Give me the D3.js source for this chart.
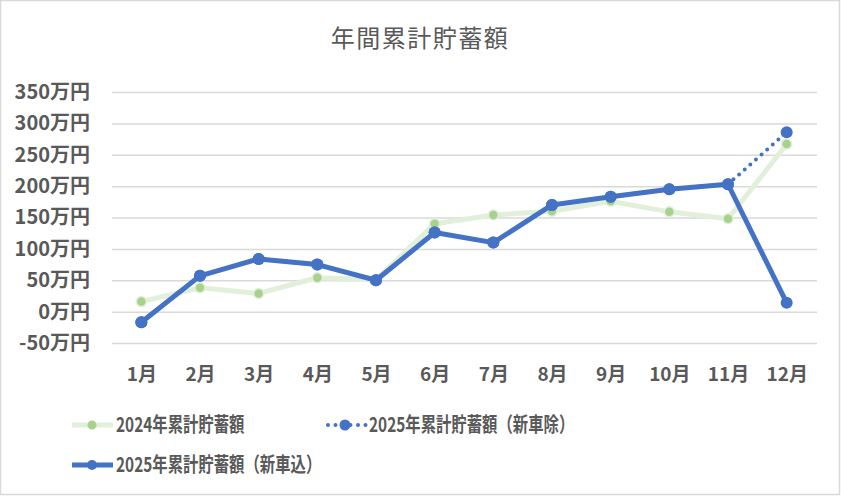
<!DOCTYPE html>
<html><head><meta charset="utf-8">
<script src="https://cdn.jsdelivr.net/npm/d3@7"></script>
<style>
html,body{margin:0;padding:0;background:#fff;}
svg{display:block;font-family:"Noto Sans CJK JP","Noto Sans",sans-serif;}
</style></head>
<body>
<svg id="chart" width="841" height="496"></svg>
<script>
const months = ["1月","2月","3月","4月","5月","6月","7月","8月","9月","10月","11月","12月"];
const yTicks = [-50,0,50,100,150,200,250,300,350];
const s2024 = [16,38,29,54,51,140,154,160,176,159,148,267];
const s2025ex = [-17,57,84,75,50,126,110,170,183,195,203,286];
const s2025in = [-17,57,84,75,50,126,110,170,183,195,203,14];
const title = "年間累計貯蓄額";
const names = ["2024年累計貯蓄額","2025年累計貯蓄額（新車除）","2025年累計貯蓄額（新車込）"];

const svg = d3.select("#chart");
const W = 841, H = 496;
svg.append("rect").attr("x",0.5).attr("y",0.5).attr("width",W-2).attr("height",H-2)
  .attr("fill","#fff").attr("stroke","#d9d9d9").attr("stroke-width",1.5);

svg.append("text").attr("x",420).attr("y",47).attr("text-anchor","middle")
  .attr("font-size",24).attr("fill","#595959").attr("letter-spacing",1.5).text(title);

const x = d3.scalePoint().domain(months).range([112,816]).padding(0.5);
const y = d3.scaleLinear().domain([-50,350]).range([343,92]);

// gridlines
const grid = svg.append("g").attr("transform","translate(112,0)")
  .call(d3.axisLeft(y).tickValues(yTicks).tickSize(-705).tickFormat(""));
grid.select(".domain").remove();
grid.selectAll("line").attr("stroke","#d9d9d9").attr("stroke-width",1.5);

// y labels
const ya = svg.append("g").attr("transform","translate(90,0)")
  .call(d3.axisLeft(y).tickValues(yTicks).tickSize(0).tickPadding(0).tickFormat(d=>d+"万円"));
ya.select(".domain").remove();
ya.selectAll("text").attr("font-size",20).attr("font-weight","bold").attr("fill","#595959")
  .attr("font-family","\"Noto Sans CJK JP\",sans-serif");

// x labels
const xa = svg.append("g").attr("transform","translate(0,367)")
  .call(d3.axisBottom(x).tickSize(0).tickPadding(0));
xa.select(".domain").remove();
xa.selectAll("text").attr("font-size",19).attr("font-weight","bold").attr("fill","#595959")
  .attr("font-family","\"Noto Sans CJK JP\",sans-serif");

const line = d3.line().x((d,i)=>x(months[i])).y(d=>y(d));

// 2024
svg.append("path").datum(s2024).attr("d",line).attr("fill","none")
  .attr("stroke","#e2efda").attr("stroke-width",5).attr("stroke-linejoin","round");
svg.append("g").selectAll("circle").data(s2024).join("circle")
  .attr("cx",(d,i)=>x(months[i])).attr("cy",d=>y(d)).attr("r",5)
  .attr("fill","#a9d18e").attr("stroke","#e2efda").attr("stroke-width",1.5);

// 2025 ex (dotted)
svg.append("path").datum(s2025ex).attr("d",line).attr("fill","none")
  .attr("stroke","#4472c4").attr("stroke-width",4).attr("stroke-linecap","round")
  .attr("stroke-dasharray","0,7.5");
svg.append("g").selectAll("circle").data(s2025ex).join("circle")
  .attr("cx",(d,i)=>x(months[i])).attr("cy",d=>y(d)).attr("r",6)
  .attr("fill","#4472c4");

// 2025 in (solid)
svg.append("path").datum(s2025in).attr("d",line).attr("fill","none")
  .attr("stroke","#4472c4").attr("stroke-width",5).attr("stroke-linejoin","round");
svg.append("g").selectAll("circle").data(s2025in).join("circle")
  .attr("cx",(d,i)=>x(months[i])).attr("cy",d=>y(d)).attr("r",6)
  .attr("fill","#4472c4");

// legend
const leg = [
  {name:names[0], x:72, y:425, stroke:"#e2efda", mk:"#a9d18e", r:4.5, dash:null, w:5},
  {name:names[1], x:325, y:425, stroke:"#4472c4", mk:"#4472c4", r:5.5, dash:"0,7.5", w:4},
  {name:names[2], x:72, y:465, stroke:"#4472c4", mk:"#4472c4", r:5, dash:null, w:5}
];
const lg = svg.append("g").selectAll("g").data(leg).join("g")
  .attr("transform",d=>`translate(${d.x},${d.y})`);
lg.append("line").attr("x1",d=>d.dash?3:0).attr("x2",41).attr("y1",0).attr("y2",0)
  .attr("stroke",d=>d.stroke).attr("stroke-width",d=>d.w)
  .attr("stroke-linecap",d=>d.dash?"round":"butt")
  .attr("stroke-dasharray",d=>d.dash);
lg.append("circle").attr("cx",20).attr("cy",0).attr("r",d=>d.r).attr("fill",d=>d.mk);
lg.append("text").attr("transform","translate(44,0) scale(0.75,1)").attr("dy","0.36em")
  .attr("font-size",20.5).attr("font-weight","bold").attr("fill","#595959")
  .attr("font-family","\"Noto Sans CJK JP\",sans-serif")
  .text(d=>d.name);
</script>
</body></html>
